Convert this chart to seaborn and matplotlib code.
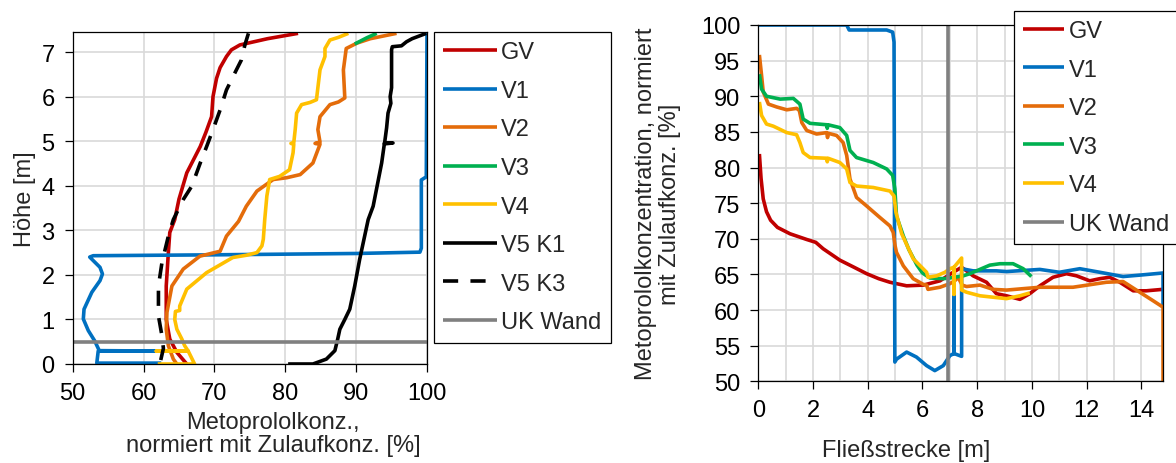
import matplotlib
matplotlib.use("Agg")
import matplotlib.pyplot as plt
from matplotlib.ticker import MultipleLocator
import seaborn as sns

# ---------------- colours ----------------
C_GV = "#C00000"
C_V1 = "#0070C0"
C_V2 = "#E46C0A"
C_V3 = "#00B050"
C_V4 = "#FFC000"
C_V5 = "#000000"
C_UK = "#808080"

# ---------------- vertical profiles (concentration [%], height [m]) ----------------
gv_conc = [81.8, 77.5, 73.6, 72.4, 71.7, 70.8, 70.3, 69.8, 69.6, 68.8, 68.0, 66.1, 65.0, 64.4, 63.7,
           63.5, 63.2, 63.2, 63.7, 64.7, 66.1]
gv_h = [7.42, 7.30, 7.16, 7.05, 6.90, 6.65, 6.41, 6.00, 5.55, 5.20, 4.88, 4.29, 3.70, 3.24, 2.95,
        2.50, 1.75, 1.00, 0.56, 0.26, 0.00]

v1_conc = [62.5, 53.4, 53.6, 62.3, 53.75, 53.1, 52.2, 51.5, 51.6, 52.7, 53.85, 54.2, 53.85, 52.9, 52.4,
           52.9, 70.0, 90.0, 99.0, 99.2, 99.2, 99.9, 100.0]
v1_h = [0.02, 0.02, 0.29, 0.29, 0.30, 0.52, 0.75, 1.01, 1.23, 1.61, 1.87, 2.02, 2.17, 2.32, 2.40,
        2.43, 2.45, 2.48, 2.51, 2.60, 4.13, 4.20, 7.45]

v2_conc = [95.7, 92.0, 90.1, 88.6, 88.2, 88.4, 87.5, 86.3, 84.9, 84.6, 84.9, 84.2, 84.9, 83.9, 82.1,
           80.2, 78.3, 76.0, 74.5, 73.4, 71.7, 70.8, 67.95, 65.6, 64.0, 63.3, 63.2, 63.5, 64.2, 64.7]
v2_h = [7.42, 7.30, 7.20, 7.08, 6.60, 5.97, 5.88, 5.82, 5.55, 5.26, 4.98, 4.95, 4.93, 4.51, 4.25,
        4.18, 4.14, 3.88, 3.54, 3.20, 2.87, 2.53, 2.42, 2.13, 1.75, 1.16, 0.78, 0.41, 0.11, 0.00]

v3_conc = [89.8, 91.5, 92.9]
v3_h = [7.18, 7.32, 7.42]

v4_conc = [88.9, 87.5, 86.3, 85.6, 85.6, 84.9, 84.6, 84.4, 83.5, 82.3, 81.6, 81.4, 81.2, 80.8, 81.2,
           81.1, 80.6, 79.2, 77.8, 77.4, 77.1, 76.9, 76.7, 76.0, 74.5, 72.6, 68.9, 66.1, 65.1, 65.1,
           64.5, 64.4, 64.7, 65.4, 65.8, 66.3, 61.8, 66.3, 67.2, 62.0]
v4_h = [7.42, 7.33, 7.27, 7.08, 6.90, 6.60, 6.20, 5.93, 5.87, 5.82, 5.63, 5.26, 4.97, 4.95, 4.93,
        4.74, 4.36, 4.21, 4.14, 3.77, 3.24, 2.80, 2.65, 2.50, 2.44, 2.39, 2.05, 1.68, 1.30, 1.20,
        1.18, 1.00, 0.78, 0.56, 0.41, 0.29, 0.29, 0.29, 0.00, 0.00]

v5k1_conc = [80.4, 83.9, 85.8, 87.0, 87.4, 87.7, 88.4, 89.1, 89.8, 90.5, 91.2, 91.7, 92.4, 93.6, 94.0,
             95.2, 94.0, 94.3, 94.5, 94.9, 94.8, 95.0, 95.0, 95.1, 96.4, 97.1, 97.9, 99.9]
v5k1_h = [0.00, 0.00, 0.11, 0.30, 0.56, 0.78, 1.00, 1.23, 1.75, 2.35, 2.87, 3.24, 3.54, 4.51, 4.96,
          4.96, 4.94, 5.30, 5.63, 5.85, 6.00, 6.20, 7.05, 7.12, 7.14, 7.23, 7.30, 7.42]

v5k3_conc = [74.8, 74.3, 73.8, 73.1, 71.7, 70.8, 69.8, 68.9, 68.0, 66.8, 65.6, 64.2, 63.5, 62.6, 62.1,
             62.1, 62.6, 62.8, 62.3]
v5k3_h = [7.42, 7.16, 6.82, 6.60, 6.15, 5.70, 5.26, 4.88, 4.51, 3.99, 3.69, 3.24, 2.87, 2.28, 1.75,
          1.08, 0.63, 0.35, 0.00]

uk_h_conc = [50.0, 100.0]
uk_h = [0.5, 0.5]

# ---------------- longitudinal profiles (distance [m], concentration [%]) ----------------
gv_s = [0.04, 0.10, 0.18, 0.30, 0.45, 0.70, 1.16, 1.77, 2.10, 2.37, 2.98, 3.50, 3.96, 4.40, 4.81,
        5.42, 6.03, 6.64, 7.12, 7.43, 7.61, 7.85, 8.34, 8.70, 9.07, 9.56, 9.92, 10.29, 10.77, 11.26,
        11.63, 12.11, 12.48, 12.84, 13.21, 13.70, 14.18, 14.77]
gv_c = [81.9, 78.5, 75.6, 73.8, 72.6, 71.6, 70.7, 69.9, 69.5, 68.6, 67.0, 66.0, 65.1, 64.4, 63.9,
        63.4, 63.5, 64.1, 65.3, 66.0, 65.5, 64.8, 63.9, 62.3, 62.0, 61.5, 62.3, 63.4, 64.6, 65.1,
        64.8, 64.1, 64.4, 64.6, 63.9, 62.7, 62.7, 62.9]

v1_s = [0.0, 3.23, 3.32, 4.69, 4.91, 4.96, 4.99, 5.05, 5.42, 5.78, 6.15, 6.45, 6.76, 7.00, 7.15,
        7.15, 7.15, 7.43, 7.43, 7.85, 8.70, 9.07, 10.29, 11.00, 11.75, 12.48, 13.33, 13.94, 14.79, 14.79]
v1_c = [100.0, 100.0, 99.3, 99.3, 99.0, 97.6, 52.7, 53.1, 54.1, 53.4, 52.2, 51.5, 52.2, 53.6, 53.9,
        62.2, 53.9, 53.5, 65.8, 65.5, 65.5, 65.4, 65.7, 65.3, 65.8, 65.3, 64.7, 64.9, 65.2, 60.4]

v2_s = [0.04, 0.12, 0.18, 0.37, 0.67, 1.04, 1.40, 1.50, 1.59, 1.77, 2.13, 2.50, 2.53, 2.56, 2.86,
        3.10, 3.23, 3.35, 3.59, 3.96, 4.44, 4.81, 4.93, 5.00, 5.05, 5.30, 5.66, 6.03, 6.15, 6.20,
        6.64, 7.00, 7.18, 7.30, 7.45, 7.61, 8.10, 8.58, 9.07, 10.29, 11.50, 12.72, 13.33, 13.94,
        14.43, 14.79, 14.79]
v2_c = [95.8, 92.9, 90.6, 88.9, 88.5, 88.1, 88.3, 88.0, 86.3, 85.2, 84.7, 84.9, 84.2, 84.8, 84.5,
        83.5, 81.7, 78.4, 75.8, 74.6, 73.0, 71.8, 70.9, 69.0, 68.1, 66.2, 64.4, 63.6, 63.5, 62.9,
        63.2, 63.7, 64.1, 64.6, 63.5, 63.3, 63.5, 62.9, 62.8, 63.2, 63.2, 63.9, 64.0, 62.5,
        61.3, 60.4, 50.0]

v3_s = [0.04, 0.12, 0.30, 0.80, 1.28, 1.52, 1.64, 1.89, 2.50, 2.52, 2.55, 2.98, 3.23, 3.35, 3.59,
        4.20, 4.69, 4.91, 4.99, 5.05, 5.30, 5.50, 5.80, 6.00, 6.27, 6.76, 7.00, 7.49, 7.73, 8.46,
        8.83, 9.31, 9.68, 9.98]
v3_c = [93.1, 91.0, 90.0, 89.6, 89.7, 88.9, 86.8, 86.2, 86.0, 85.5, 86.0, 85.6, 84.5, 82.4, 81.4,
        80.7, 79.8, 78.9, 77.0, 73.2, 70.4, 68.5, 66.3, 65.2, 64.5, 64.4, 64.5, 64.8, 65.1, 66.3,
        66.5, 66.5, 65.8, 64.7]

v4_s = [0.04, 0.12, 0.30, 0.55, 1.04, 1.40, 1.52, 1.64, 1.89, 2.50, 2.52, 2.55, 2.98, 3.23, 3.35,
        3.59, 4.20, 4.81, 4.96, 5.03, 5.24, 5.66, 6.15, 6.20, 6.52, 6.82, 7.00, 7.15, 7.15, 7.15,
        7.43, 7.43, 7.61, 8.10, 8.58, 9.07, 9.56, 9.92]
v4_c = [89.2, 87.3, 86.1, 85.8, 84.9, 84.6, 83.5, 82.1, 81.4, 81.3, 80.8, 81.3, 80.7, 79.8, 77.9,
        77.4, 77.2, 76.7, 76.0, 73.7, 70.7, 67.2, 65.3, 64.6, 64.8, 65.3, 65.8, 66.0, 62.2, 66.0,
        67.3, 62.8, 62.5, 62.0, 61.8, 61.6, 62.0, 62.4]

uk_v_s = [6.93, 6.93]
uk_v_c = [50.0, 100.0]

# ---------------- styling ----------------
sns.set_style("ticks")
plt.rcParams["font.family"] = ["Liberation Sans", "DejaVu Sans"]
FS = 17
plt.rcParams["font.size"] = FS
LW = 2.6
GRID = "#D9D9D9"

fig = plt.figure(figsize=(11.76, 4.64), dpi=100)
ax1 = fig.add_axes([72.7 / 1176, 99 / 464, 354.3 / 1176, 332 / 464])
ax2 = fig.add_axes([758.3 / 1176, 81.7 / 464, 405 / 1176, 356.3 / 464])


def draw(ax, x, y, color, label, **kw):
    sns.lineplot(x=x, y=y, ax=ax, sort=False, estimator=None, color=color,
                 lw=LW, label=label, solid_capstyle="butt", solid_joinstyle="round", **kw)


# left: vertical profiles
draw(ax1, gv_conc, gv_h, C_GV, "GV")
draw(ax1, v1_conc, v1_h, C_V1, "V1")
draw(ax1, v2_conc, v2_h, C_V2, "V2")
draw(ax1, v3_conc, v3_h, C_V3, "V3")
draw(ax1, v4_conc, v4_h, C_V4, "V4")
draw(ax1, v5k1_conc, v5k1_h, C_V5, "V5 K1")
draw(ax1, v5k3_conc, v5k3_h, C_V5, "V5 K3", linestyle=(0, (4.2, 3.4)))
draw(ax1, uk_h_conc, uk_h, C_UK, "UK Wand")

ax1.set_xlim(50, 100)
ax1.set_ylim(0, 7.45)
ax1.xaxis.set_major_locator(MultipleLocator(10))
ax1.yaxis.set_major_locator(MultipleLocator(1))
ax1.grid(True, color=GRID, lw=1.2)
ax1.set_xlabel("Metoprololkonz.,\nnormiert mit Zulaufkonz. [%]", linespacing=1.08, labelpad=5)
ax1.xaxis.label.set_x(0.565)
ax1.set_ylabel("Höhe [m]", labelpad=4)

# right: longitudinal profiles
draw(ax2, gv_s, gv_c, C_GV, "GV")
draw(ax2, v1_s, v1_c, C_V1, "V1")
draw(ax2, v2_s, v2_c, C_V2, "V2")
draw(ax2, v3_s, v3_c, C_V3, "V3")
draw(ax2, v4_s, v4_c, C_V4, "V4")
draw(ax2, uk_v_s, uk_v_c, C_UK, "UK Wand")

ax2.set_xlim(0, 14.8)
ax2.set_ylim(50, 100)
ax2.xaxis.set_major_locator(MultipleLocator(2))
ax2.xaxis.set_minor_locator(MultipleLocator(1))
ax2.yaxis.set_major_locator(MultipleLocator(5))
ax2.grid(True, which="both", axis="x", color=GRID, lw=1.2)
ax2.grid(True, which="major", axis="y", color=GRID, lw=1.2)
ax2.tick_params(axis="x", which="minor", length=0)
ax2.set_xlabel("Fließstrecke [m]", labelpad=13)
ax2.xaxis.label.set_x(0.365)
ax2.set_ylabel("Metoprololkonzentration, normiert\nmit Zulaufkonz. [%]", linespacing=1.15, labelpad=14)

for ax in (ax1, ax2):
    ax.set_axisbelow(True)
    for s in ax.spines.values():
        s.set_visible(True)
        s.set_color("black")
        s.set_linewidth(0.9)
    ax.tick_params(axis="both", which="major", direction="out", length=5.5, width=0.9,
                   pad=7.5, labelsize=FS, colors="black")

legend_kw = dict(loc="upper left", bbox_transform=fig.transFigure, borderaxespad=0,
                 frameon=True, fancybox=False, edgecolor="black", framealpha=1,
                 handletextpad=0.2, labelspacing=0.7, borderpad=0.4, fontsize=FS)
leg1 = ax1.legend(bbox_to_anchor=(434 / 1176, 1 - 33 / 464), handlelength=2.25, **legend_kw)
leg2 = ax2.legend(bbox_to_anchor=(1014 / 1176, 1 - 11.7 / 464), handlelength=1.72, **legend_kw)
for leg in (leg1, leg2):
    leg.get_frame().set_linewidth(0.9)
    for h in leg.get_lines():
        h.set_linewidth(LW)

fig.savefig("out.png", dpi=100)
